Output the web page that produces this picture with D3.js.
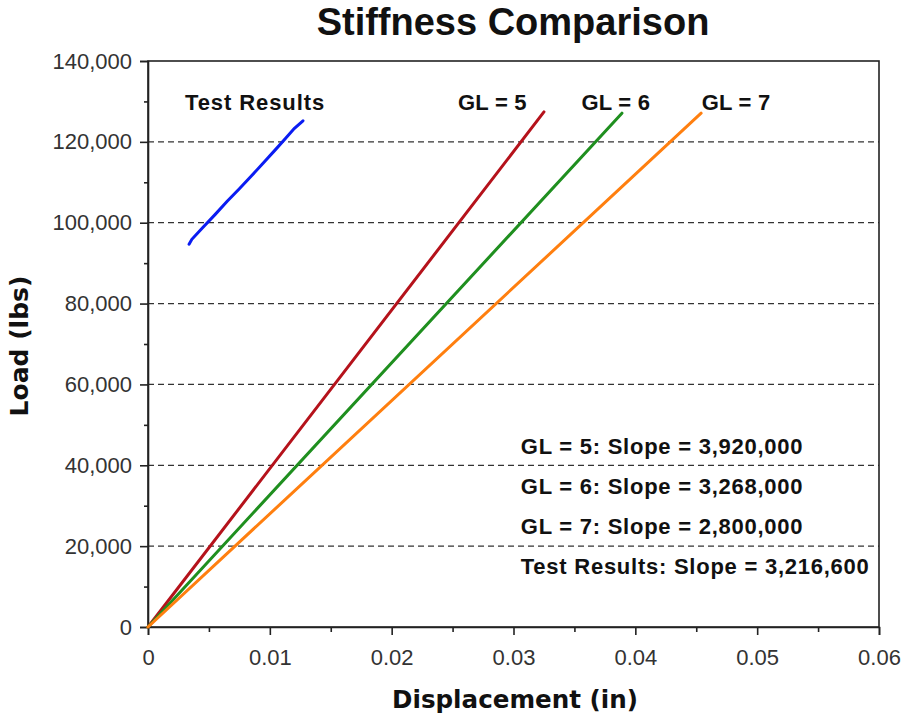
<!DOCTYPE html>
<html><head><meta charset="utf-8">
<script src="https://cdn.jsdelivr.net/npm/d3@7"></script>
<style>body{margin:0;background:#fff}svg{display:block}</style>
</head><body>
<script>
const xTicks = [0, 0.01, 0.02, 0.03, 0.04, 0.05, 0.06];
const yTicks = [0, 20000, 40000, 60000, 80000, 100000, 120000, 140000];
const seriesNames = ["GL = 5", "GL = 6", "GL = 7", "Test Results"];
const seriesColors = ["#b5121b", "#1f8f1f", "#ff7f0f", "#0a1cf2"];
const gl5X = [0, 0.0325];
const gl5Y = [0, 127400];
const gl6X = [0, 0.0389];
const gl6Y = [0, 127100];
const gl7X = [0, 0.0454];
const gl7Y = [0, 127100];
const testX = [0.00337, 0.0036, 0.0045, 0.0055, 0.0065, 0.0075, 0.0085, 0.0095, 0.0105, 0.0113, 0.0120, 0.01272];
const testY = [94700, 95900, 98800, 102000, 105300, 108400, 111600, 114900, 118200, 120900, 123300, 125200];
const slopeLabels = ["GL = 5: Slope = 3,920,000", "GL = 6: Slope = 3,268,000", "GL = 7: Slope = 2,800,000", "Test Results: Slope = 3,216,600"];

const W = 901, H = 719;
const m = {left:148, right:22, top:61, bottom:92};
const svg = d3.select("body").append("svg").attr("width", W).attr("height", H);
const x = d3.scaleLinear().domain([0, 0.06]).range([m.left, W - m.right]);
const y = d3.scaleLinear().domain([0, 140000]).range([H - m.bottom, m.top]);
const font = "'Liberation Sans', Arial, sans-serif";
const font2 = "'DejaVu Sans', Verdana, sans-serif";

// grid
svg.append("g").selectAll("line").data(yTicks.filter(v => v > 0 && v < 140000)).join("line")
  .attr("x1", x(0)).attr("x2", x(0.06)).attr("y1", d => y(d)).attr("y2", d => y(d))
  .attr("stroke", "#333").attr("stroke-width", 1.2).attr("stroke-dasharray", "6,4");

// frame
svg.append("rect").attr("x", x(0)).attr("y", y(140000)).attr("width", x(0.06) - x(0)).attr("height", y(0) - y(140000))
  .attr("fill", "none").attr("stroke", "#222").attr("stroke-width", 1.6);

// axes
const xAxis = d3.axisBottom(x).tickValues(xTicks).tickFormat(d => d === 0 ? "0" : d3.format(".2f")(d)).tickSize(8).tickPadding(14);
svg.append("g").attr("transform", `translate(0,${y(0)})`).call(xAxis);
const xMinor = d3.axisBottom(x).tickValues(d3.range(0.005, 0.06, 0.01)).tickFormat("").tickSize(5);
svg.append("g").attr("transform", `translate(0,${y(0)})`).call(xMinor).select(".domain").remove();
const yAxis = d3.axisLeft(y).tickValues(yTicks).tickFormat(d3.format(",")).tickSize(8).tickPadding(8);
svg.append("g").attr("transform", `translate(${x(0)},0)`).call(yAxis);
const yMinor = d3.axisLeft(y).tickValues(d3.range(10000, 140000, 20000)).tickFormat("").tickSize(4);
svg.append("g").attr("transform", `translate(${x(0)},0)`).call(yMinor).select(".domain").remove();
svg.selectAll(".domain").attr("stroke", "#222").attr("stroke-width", 1.6);
svg.selectAll(".tick line").attr("stroke", "#222").attr("stroke-width", 1.6);
svg.selectAll(".tick text").attr("font-family", font).attr("font-size", 22).attr("fill", "#333");

// lines
const line = d3.line().x(d => x(d[0])).y(d => y(d[1]));
const series = [[gl5X, gl5Y], [gl6X, gl6Y], [gl7X, gl7Y], [testX, testY]];
series.forEach((s, i) => {
  const pts = s[0].map((v, j) => [v, s[1][j]]);
  svg.append("path").datum(pts).attr("d", line).attr("fill", "none")
    .attr("stroke", seriesColors[i]).attr("stroke-width", 3).attr("stroke-linecap", "round");
});

// series labels (layout positions in data units)
const labelPos = [[0.02545, 127900], [0.03558, 127900], [0.04545, 127900], [0.00304, 127900]];
seriesNames.forEach((n, i) => {
  svg.append("text").attr("x", x(labelPos[i][0])).attr("y", y(labelPos[i][1]))
    .attr("font-family", font).attr("font-weight", "bold").attr("font-size", 22)
    .attr("letter-spacing", i === 3 ? 0.9 : 0.2).attr("fill", "#111").text(n);
});

// slope labels
slopeLabels.forEach((t, i) => {
  svg.append("text").attr("x", x(0.0306)).attr("y", y(42800 - i * 9900))
    .attr("font-family", font).attr("font-weight", "bold").attr("font-size", 22)
    .attr("letter-spacing", 0.75).attr("fill", "#111").text(t);
});

// titles
svg.append("text").attr("x", 513).attr("y", 35).attr("text-anchor", "middle")
  .attr("font-family", font).attr("font-weight", "bold").attr("font-size", 38).attr("fill", "#111").text("Stiffness Comparison");
svg.append("text").attr("x", 515).attr("y", 708).attr("text-anchor", "middle")
  .attr("font-family", font2).attr("font-weight", "bold").attr("font-size", 24.6).attr("fill", "#111").text("Displacement (in)");
svg.append("text").attr("transform", `translate(28,346) rotate(-90)`).attr("text-anchor", "middle")
  .attr("font-family", font2).attr("font-weight", "bold").attr("font-size", 25).attr("fill", "#111").text("Load (lbs)");
</script>
</body></html>
